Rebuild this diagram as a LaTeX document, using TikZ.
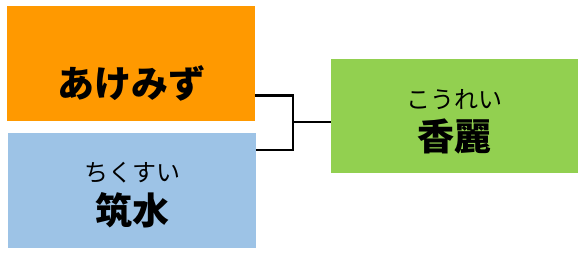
\documentclass[tikz,border=0pt]{standalone}
\usepackage{fontspec}
\newfontfamily\jpfont{Noto Sans CJK JP}
\usetikzlibrary{calc}

\definecolor{akeorange}{HTML}{FF9900}
\definecolor{suiblue}{HTML}{9DC3E6}
\definecolor{kougreen}{HTML}{92D050}

\tikzset{
    namebox/.style={anchor=north west, inner sep=0pt, minimum width=248pt, minimum height=115pt},
    rubytext/.style={inner sep=0pt, font=\jpfont\fontsize{24}{26}\selectfont},
    maintext/.style={inner sep=0pt, font=\jpfont\bfseries\fontsize{37}{40}\selectfont},
    conn/.style={line width=2.6pt}
}

\begin{document}
\begin{tikzpicture}[x=1pt, y=-1pt]
    \useasboundingbox (0,0) rectangle (586,254);

    % the three boxes
    \node[namebox, fill=akeorange] (ake) at (7,6) {};
    \node[namebox, fill=suiblue] (sui) at (8,133) {};
    \node[namebox, fill=kougreen, minimum width=247pt, minimum height=114pt] (kou) at (331,59) {};

    % names, with their readings above
    \node[maintext] (akename) at ($(ake.north)+(0,77)$) {あけみず};
    \node[rubytext] (suiruby) at ($(sui.north)+(0,40)$) {ちくすい};
    \node[maintext] (suiname) at ($(sui.north)+(0,77)$) {筑水};
    \node[rubytext] (kouruby) at ($(kou.north)+(0,41)$) {こうれい};
    \node[maintext] (kouname) at ($(kou.north)+(0,77)$) {香麗};

    % bracket joining the two parents to the child
    \coordinate (join) at (293,122);
    \draw[conn] ($(ake.south east)+(0,-26)$) -| (join) |- ($(sui.north east)+(0,17)$);
    \draw[conn] (join) -- (kou.west |- join);

\end{tikzpicture}
\end{document}
